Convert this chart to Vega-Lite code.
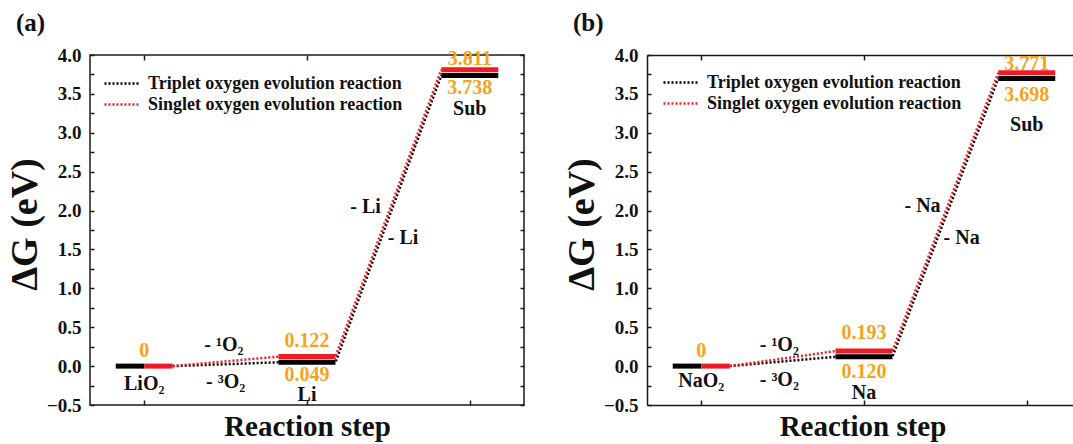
{
  "$schema": "https://vega.github.io/schema/vega-lite/v6.json",
  "padding": {"left": 5, "top": 10, "right": 0, "bottom": 0},
  "spacing": 37,
  "datasets": {
    "barsA": [
      {"x1": -0.175, "x2": 0, "y": 0, "series": "Triplet oxygen evolution reaction"},
      {"x1": 0, "x2": 0.175, "y": 0, "series": "Singlet oxygen evolution reaction"},
      {"x1": 0.825, "x2": 1.175, "y": 0.049, "series": "Triplet oxygen evolution reaction"},
      {"x1": 0.825, "x2": 1.175, "y": 0.122, "series": "Singlet oxygen evolution reaction"},
      {"x1": 1.825, "x2": 2.175, "y": 3.738, "series": "Triplet oxygen evolution reaction"},
      {"x1": 1.825, "x2": 2.175, "y": 3.811, "series": "Singlet oxygen evolution reaction"}
    ],
    "linesA": [
      {"x": 0.175, "y": 0, "series": "Triplet oxygen evolution reaction"},
      {"x": 0.825, "y": 0.049, "series": "Triplet oxygen evolution reaction"},
      {"x": 1.175, "y": 0.049, "series": "Triplet oxygen evolution reaction"},
      {"x": 1.825, "y": 3.738, "series": "Triplet oxygen evolution reaction"},
      {"x": 0.175, "y": 0, "series": "Singlet oxygen evolution reaction"},
      {"x": 0.825, "y": 0.122, "series": "Singlet oxygen evolution reaction"},
      {"x": 1.175, "y": 0.122, "series": "Singlet oxygen evolution reaction"},
      {"x": 1.825, "y": 3.811, "series": "Singlet oxygen evolution reaction"}
    ],
    "valuesA": [
      {"x": 0, "y": 0.19, "t": "0"},
      {"x": 1, "y": 0.32, "t": "0.122"},
      {"x": 1, "y": -0.12, "t": "0.049"},
      {"x": 2, "y": 3.95, "t": "3.811"},
      {"x": 2, "y": 3.58, "t": "3.738"}
    ],
    "namesA": [
      {"x": 0, "y": -0.23, "t": "LiO₂"},
      {"x": 1, "y": -0.37, "t": "Li"},
      {"x": 2, "y": 3.30, "t": "Sub"},
      {"x": 0.49, "y": 0.27, "t": "- ¹O₂"},
      {"x": 0.5, "y": -0.2, "t": "- ³O₂"},
      {"x": 1.36, "y": 2.04, "t": "- Li"},
      {"x": 1.59, "y": 1.65, "t": "- Li"}
    ],
    "barsB": [
      {"x1": -0.175, "x2": 0, "y": 0, "series": "Triplet oxygen evolution reaction"},
      {"x1": 0, "x2": 0.175, "y": 0, "series": "Singlet oxygen evolution reaction"},
      {"x1": 0.825, "x2": 1.175, "y": 0.120, "series": "Triplet oxygen evolution reaction"},
      {"x1": 0.825, "x2": 1.175, "y": 0.193, "series": "Singlet oxygen evolution reaction"},
      {"x1": 1.825, "x2": 2.175, "y": 3.698, "series": "Triplet oxygen evolution reaction"},
      {"x1": 1.825, "x2": 2.175, "y": 3.771, "series": "Singlet oxygen evolution reaction"}
    ],
    "linesB": [
      {"x": 0.175, "y": 0, "series": "Triplet oxygen evolution reaction"},
      {"x": 0.825, "y": 0.120, "series": "Triplet oxygen evolution reaction"},
      {"x": 1.175, "y": 0.120, "series": "Triplet oxygen evolution reaction"},
      {"x": 1.825, "y": 3.698, "series": "Triplet oxygen evolution reaction"},
      {"x": 0.175, "y": 0, "series": "Singlet oxygen evolution reaction"},
      {"x": 0.825, "y": 0.193, "series": "Singlet oxygen evolution reaction"},
      {"x": 1.175, "y": 0.193, "series": "Singlet oxygen evolution reaction"},
      {"x": 1.825, "y": 3.771, "series": "Singlet oxygen evolution reaction"}
    ],
    "valuesB": [
      {"x": 0, "y": 0.2, "t": "0"},
      {"x": 1, "y": 0.42, "t": "0.193"},
      {"x": 1, "y": -0.07, "t": "0.120"},
      {"x": 2, "y": 3.88, "t": "3.771"},
      {"x": 2, "y": 3.49, "t": "3.698"}
    ],
    "namesB": [
      {"x": 0, "y": -0.19, "t": "NaO₂"},
      {"x": 1, "y": -0.34, "t": "Na"},
      {"x": 2, "y": 3.1, "t": "Sub"},
      {"x": 0.48, "y": 0.27, "t": "- ¹O₂"},
      {"x": 0.48, "y": -0.18, "t": "- ³O₂"},
      {"x": 1.36, "y": 2.06, "t": "- Na"},
      {"x": 1.6, "y": 1.65, "t": "- Na"}
    ]
  },
  "hconcat": [
    {
      "width": 434,
      "height": 350,
      "title": {"text": "(a)"},
      "layer": [
        {
          "data": {"name": "linesA"},
          "mark": {"type": "line", "strokeWidth": 2.5, "strokeDash": [2, 2]},
          "encoding": {
            "x": {"field": "x", "type": "quantitative", "scale": {"domain": [-0.333, 2.333], "nice": false, "zero": false},
                  "axis": {"orient": "top", "values": [0, 1, 2], "labels": false, "title": null, "domain": false, "tickSize": -5}},
            "y": {"field": "y", "type": "quantitative", "scale": {"domain": [-0.5, 4.0], "nice": false},
                  "axis": {"orient": "right", "values": [-0.5,-0.25,0,0.25,0.5,0.75,1,1.25,1.5,1.75,2,2.25,2.5,2.75,3,3.25,3.5,3.75,4], "labels": false, "title": null, "domain": false, "tickSize": -4}},
            "color": {"field": "series", "type": "nominal",
                      "scale": {"domain": ["Triplet oxygen evolution reaction", "Singlet oxygen evolution reaction"], "range": ["#000000", "#ed1c24"]},
                      "legend": {"title": null, "orient": "none", "legendX": 22, "legendY": 18, "symbolType": "M-2,0H2", "symbolSize": 324, "symbolDash": [2, 2], "symbolStrokeWidth": 2.5, "symbolFillColor": "transparent", "labelFont": "Liberation Serif", "labelFontSize": 18, "labelFontWeight": "bold", "labelColor": "#111111", "labelOffset": 15, "labelLimit": 400, "rowPadding": 1, "padding": 0}},
            "detail": {"field": "series"}
          }
        },
        {
          "data": {"name": "barsA"},
          "mark": {"type": "rule", "strokeWidth": 5},
          "encoding": {
            "x": {"field": "x1", "type": "quantitative", "scale": {"domain": [-0.333, 2.333], "nice": false, "zero": false},
                  "axis": {"orient": "bottom", "values": [0, 1, 2], "labels": false, "title": "Reaction step", "titleFontSize": 29, "titlePadding": 7, "domain": false, "tickSize": -5}},
            "x2": {"field": "x2"},
            "y": {"field": "y", "type": "quantitative", "scale": {"domain": [-0.5, 4.0], "nice": false},
                  "axis": {"orient": "left", "values": [-0.5,-0.25,0,0.25,0.5,0.75,1,1.25,1.5,1.75,2,2.25,2.5,2.75,3,3.25,3.5,3.75,4],
                           "labelExpr": "abs(datum.value*2 - round(datum.value*2)) < 0.001 ? format(datum.value, '.1f') : ''",
                           "title": "ΔG (eV)", "titleFontSize": 38, "titlePadding": 2, "titleY": 169, "labelPadding": 13, "domain": false, "tickSize": -4}},
            "color": {"field": "series", "type": "nominal"}
          }
        },
        {
          "data": {"name": "valuesA"},
          "mark": {"type": "text", "font": "Liberation Serif", "fontWeight": "bold", "fontSize": 20, "color": "#f7a21b"},
          "encoding": {
            "x": {"field": "x", "type": "quantitative", "axis": null},
            "y": {"field": "y", "type": "quantitative", "axis": null},
            "text": {"field": "t"}
          }
        },
        {
          "data": {"name": "namesA"},
          "mark": {"type": "text", "font": "Liberation Serif", "fontWeight": "bold", "fontSize": 20, "color": "#111111"},
          "encoding": {
            "x": {"field": "x", "type": "quantitative", "axis": null},
            "y": {"field": "y", "type": "quantitative", "axis": null},
            "text": {"field": "t"}
          }
        }
      ],
      "resolve": {"axis": {"x": "independent", "y": "independent"}}
    },
    {
      "width": 431,
      "height": 350,
      "title": {"text": "(b)"},
      "view": {"stroke": null},
      "layer": [
        {
          "data": {"name": "linesB"},
          "mark": {"type": "line", "strokeWidth": 2.5, "strokeDash": [2, 2]},
          "encoding": {
            "x": {"field": "x", "type": "quantitative", "scale": {"domain": [-0.333, 2.315], "nice": false, "zero": false},
                  "axis": {"orient": "top", "values": [0, 1, 2], "labels": false, "title": null, "domain": true, "tickSize": -5}},
            "y": {"field": "y", "type": "quantitative", "scale": {"domain": [-0.5, 4.0], "nice": false},
                  "axis": {"orient": "right", "values": [-0.5,-0.25,0,0.25,0.5,0.75,1,1.25,1.5,1.75,2,2.25,2.5,2.75,3,3.25,3.5,3.75,4], "labels": false, "title": null, "domain": false, "tickSize": -4}},
            "color": {"field": "series", "type": "nominal",
                      "scale": {"domain": ["Triplet oxygen evolution reaction", "Singlet oxygen evolution reaction"], "range": ["#000000", "#ed1c24"]},
                      "legend": {"title": null, "orient": "none", "legendX": 24, "legendY": 17, "symbolType": "M-2,0H2", "symbolSize": 324, "symbolDash": [2, 2], "symbolStrokeWidth": 2.5, "symbolFillColor": "transparent", "labelFont": "Liberation Serif", "labelFontSize": 18, "labelFontWeight": "bold", "labelColor": "#111111", "labelOffset": 15, "labelLimit": 400, "rowPadding": 1, "padding": 0}},
            "detail": {"field": "series"}
          }
        },
        {
          "data": {"name": "barsB"},
          "mark": {"type": "rule", "strokeWidth": 5},
          "encoding": {
            "x": {"field": "x1", "type": "quantitative", "scale": {"domain": [-0.333, 2.315], "nice": false, "zero": false},
                  "axis": {"orient": "bottom", "values": [0, 1, 2], "labels": false, "title": "Reaction step", "titleFontSize": 29, "titlePadding": 7, "domain": true, "tickSize": -5}},
            "x2": {"field": "x2"},
            "y": {"field": "y", "type": "quantitative", "scale": {"domain": [-0.5, 4.0], "nice": false},
                  "axis": {"orient": "left", "values": [-0.5,-0.25,0,0.25,0.5,0.75,1,1.25,1.5,1.75,2,2.25,2.5,2.75,3,3.25,3.5,3.75,4],
                           "labelExpr": "abs(datum.value*2 - round(datum.value*2)) < 0.001 ? format(datum.value, '.1f') : ''",
                           "title": "ΔG (eV)", "titleFontSize": 38, "titlePadding": 2, "titleY": 169, "labelPadding": 13, "domain": true, "tickSize": -4}},
            "color": {"field": "series", "type": "nominal"}
          }
        },
        {
          "data": {"name": "valuesB"},
          "mark": {"type": "text", "font": "Liberation Serif", "fontWeight": "bold", "fontSize": 20, "color": "#f7a21b"},
          "encoding": {
            "x": {"field": "x", "type": "quantitative", "axis": null},
            "y": {"field": "y", "type": "quantitative", "axis": null},
            "text": {"field": "t"}
          }
        },
        {
          "data": {"name": "namesB"},
          "mark": {"type": "text", "font": "Liberation Serif", "fontWeight": "bold", "fontSize": 20, "color": "#111111"},
          "encoding": {
            "x": {"field": "x", "type": "quantitative", "axis": null},
            "y": {"field": "y", "type": "quantitative", "axis": null},
            "text": {"field": "t"}
          }
        }
      ],
      "resolve": {"axis": {"x": "independent", "y": "independent"}}
    }
  ],
  "resolve": {"scale": {"color": "independent"}, "legend": {"color": "independent"}},
  "config": {
    "font": "Liberation Serif",
    "view": {"stroke": "#1a1a1a", "strokeWidth": 1.5},
    "axis": {"labelFont": "Liberation Serif", "labelFontWeight": "bold", "labelFontSize": 19, "labelColor": "#111111",
             "titleFont": "Liberation Serif", "titleFontWeight": "bold", "titleColor": "#111111",
             "tickColor": "#1a1a1a", "tickWidth": 1.5, "grid": false, "domainColor": "#1a1a1a", "domainWidth": 1.5},
    "title": {"font": "Liberation Serif", "fontWeight": "bold", "fontSize": 25, "anchor": "start", "frame": "group", "dx": -74, "offset": 10, "color": "#111111"}
  }
}
